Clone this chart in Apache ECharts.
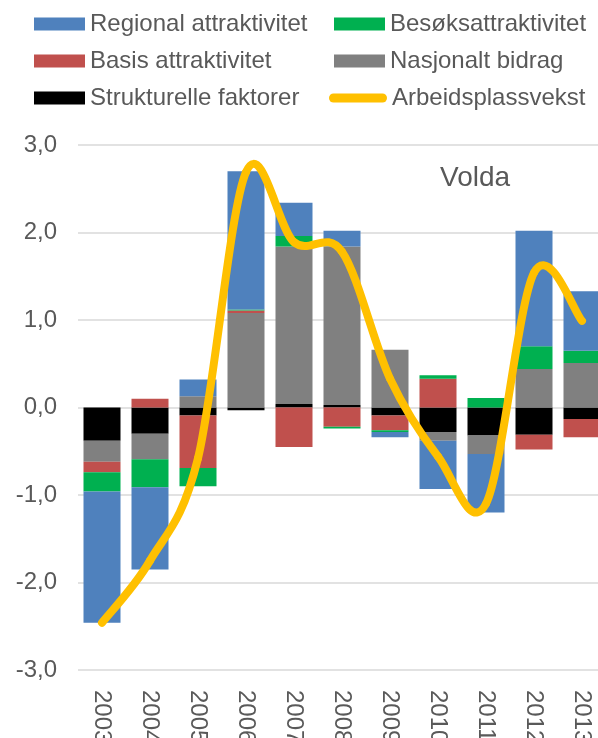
<!DOCTYPE html>
<html>
<head>
<meta charset="utf-8">
<script src="https://cdn.jsdelivr.net/npm/echarts@6/dist/echarts.min.js"></script>
<style>
  html, body { margin: 0; padding: 0; background: #ffffff; }
  #chart { width: 598px; height: 738px; }
</style>
</head>
<body>
<div id="chart"></div>
<script>
// Volda: decomposition of employment growth (%), 2003–2013
const years = ['2003', '2004', '2005', '2006', '2007', '2008', '2009', '2010', '2011', '2012', '2013'];

const strukturelle = [-0.38, -0.30, -0.09, -0.03, 0.04, 0.03, -0.09, -0.28, -0.32, -0.31, -0.13];
const nasjonalt    = [-0.24, -0.29, 0.13, 1.08, 1.80, 1.81, 0.66, -0.10, -0.21, 0.44, 0.51];
const basis        = [-0.12, 0.10, -0.60, 0.03, -0.45, -0.22, -0.17, 0.33, 0.00, -0.17, -0.21];
const besok        = [-0.22, -0.32, -0.21, 0.01, 0.12, -0.02, -0.02, 0.04, 0.11, 0.26, 0.14];
const regional     = [-1.50, -0.94, 0.19, 1.58, 0.38, 0.18, -0.06, -0.55, -0.67, 1.32, 0.68];
const vekst        = [-2.46, -1.75, -0.58, 2.69, 1.89, 1.78, 0.33, -0.56, -1.10, 1.54, 0.99];

const yTicks = { min: -3, max: 3, interval: 1 };

const FONT = 'Liberation Sans, Arial, sans-serif';
const TEXT = '#595959';
const LINE_COLOR = '#FFC000';

const chart = echarts.init(document.getElementById('chart'), null, { renderer: 'canvas' });

function barSeries(name, data, color) {
  return {
    name, type: 'bar', stack: 'total', data,
    barWidth: 37,
    itemStyle: { color },
    emphasis: { disabled: true }
  };
}

// Smoothed growth line: one cubic Bézier per category step, control points
// taken from the neighbouring points (Catmull-Rom style, 1/6 tangent).
function renderGrowth(params, api) {
  const i = params.dataIndex;
  const n = vekst.length;
  if (i >= n - 1) return null;
  const at = k => {
    const kk = Math.max(0, Math.min(n - 1, k));
    return api.coord([kk, vekst[kk]]);
  };
  const p0 = at(i - 1), p1 = at(i), p2 = at(i + 1), p3 = at(i + 2);
  return {
    type: 'bezierCurve',
    shape: {
      x1: p1[0], y1: p1[1],
      cpx1: p1[0] + (p2[0] - p0[0]) / 6, cpy1: p1[1] + (p2[1] - p0[1]) / 6,
      cpx2: p2[0] - (p3[0] - p1[0]) / 6, cpy2: p2[1] - (p3[1] - p1[1]) / 6,
      x2: p2[0], y2: p2[1]
    },
    style: { stroke: LINE_COLOR, lineWidth: 8, fill: null, lineCap: 'round', lineJoin: 'round' }
  };
}

const legendBase = {
  orient: 'vertical',
  itemHeight: 13,
  itemGap: 13,
  textStyle: { fontFamily: FONT, fontSize: 24, color: TEXT, lineHeight: 24 },
  selectedMode: false,
  padding: 0
};
const pill = 'path://M4.5,0 H53.5 A4.5,4.5 0 0 1 53.5,9 H4.5 A4.5,4.5 0 0 1 4.5,0 Z';

chart.setOption({
  animation: false,
  backgroundColor: '#ffffff',
  legend: [
    Object.assign({}, legendBase, {
      left: 34, top: 12, itemWidth: 51,
      data: [
        { name: 'Regional attraktivitet', icon: 'rect' },
        { name: 'Basis attraktivitet', icon: 'rect' },
        { name: 'Strukturelle faktorer', icon: 'rect' }
      ]
    }),
    Object.assign({}, legendBase, {
      left: 334, top: 12, itemWidth: 51,
      data: [
        { name: 'Besøksattraktivitet', icon: 'rect' },
        { name: 'Nasjonalt bidrag', icon: 'rect' }
      ]
    }),
    Object.assign({}, legendBase, {
      left: 329, top: 86, itemWidth: 58, itemHeight: 9,
      data: [
        { name: 'Arbeidsplassvekst', icon: pill, itemStyle: { color: LINE_COLOR } }
      ]
    })
  ],
  grid: { left: 78, top: 145, width: 528, height: 525, outerBoundsMode: 'none', containLabel: false },
  xAxis: {
    type: 'category',
    data: years,
    axisLine: { show: false, onZero: false },
    axisTick: { show: false },
    axisLabel: {
      rotate: -90, margin: 20,
      fontFamily: FONT, fontSize: 24, color: TEXT
    }
  },
  yAxis: {
    type: 'value',
    min: yTicks.min, max: yTicks.max, interval: yTicks.interval,
    axisLine: { show: false },
    axisTick: { show: false },
    axisLabel: {
      margin: 21,
      fontFamily: FONT, fontSize: 24, color: TEXT,
      formatter: v => v.toFixed(1).replace('.', ',')
    },
    splitLine: { lineStyle: { color: '#d9d9d9', width: 1.5 } }
  },
  graphic: [{
    type: 'text', left: 440, top: 164,
    style: { text: 'Volda', fontFamily: FONT, fontSize: 28, fill: TEXT }
  }],
  series: [
    barSeries('Strukturelle faktorer', strukturelle, '#000000'),
    barSeries('Nasjonalt bidrag', nasjonalt, '#808080'),
    barSeries('Basis attraktivitet', basis, '#C0504D'),
    barSeries('Besøksattraktivitet', besok, '#00B050'),
    barSeries('Regional attraktivitet', regional, '#4F81BD'),
    {
      name: 'Arbeidsplassvekst', type: 'custom',
      data: vekst.map((v, i) => [i, v]),
      encode: { x: 0, y: 1 },
      renderItem: renderGrowth,
      itemStyle: { color: LINE_COLOR },
      clip: false, z: 5, silent: true
    }
  ]
});
</script>
</body>
</html>
